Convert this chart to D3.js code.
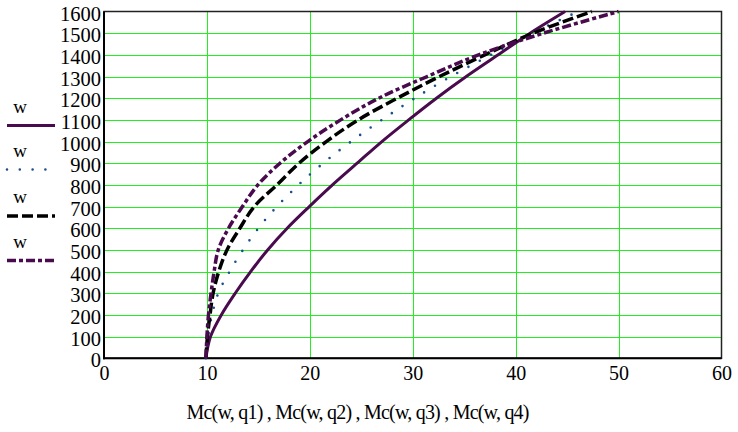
<!DOCTYPE html>
<html>
<head>
<meta charset="utf-8">
<script src="https://cdn.jsdelivr.net/npm/d3@7"></script>
<style>
  html, body { margin: 0; padding: 0; background: #fff; }
  svg { display: block; }
  svg text { font-family: "Liberation Serif", "Times New Roman", serif !important; fill: #000; }
</style>
</head>
<body>
<svg id="chart" width="738" height="432"></svg>
<script>
// ---- data ----
const wValues = [0, 100, 200, 300, 400, 500, 600, 700, 800, 900, 1000, 1100, 1200, 1300, 1400, 1500, 1600];
const mcQ1 = [9.9, 10.35, 11.4, 12.75, 14.25, 15.9, 17.8, 19.95, 22.2, 24.6, 27.0, 29.6, 32.3, 35.2, 38.3, 41.4, 44.8];
const mcQ2 = [9.9, 10.1, 10.5, 11.1, 12.2, 13.5, 15.0, 16.8, 18.9, 21.3, 24.0, 27.0, 30.2, 33.7, 37.6, 41.6, 46.1];
const mcQ3 = [9.9, 10.05, 10.3, 10.6, 11.15, 11.95, 13.2, 14.6, 16.8, 18.95, 21.6, 24.7, 28.5, 32.6, 37.0, 41.7, 47.4];
const mcQ4 = [9.9, 10.0, 10.15, 10.4, 10.7, 11.1, 12.1, 13.45, 14.95, 17.1, 19.8, 23.0, 26.7, 31.4, 36.4, 42.7, 50.0];
const xTicks = [0, 10, 20, 30, 40, 50, 60];
const yTicks = [0, 100, 200, 300, 400, 500, 600, 700, 800, 900, 1000, 1100, 1200, 1300, 1400, 1500, 1600];
const legendLabels = ["w", "w", "w", "w"];
const xTitle = "Mc(w, q1) , Mc(w, q2) , Mc(w, q3) , Mc(w, q4)";

const seriesStyles = [
  { data: mcQ1, color: "#4a0a4e", width: 3, dash: null, cap: "butt" },
  { data: mcQ2, color: "#1a4f8c", width: 2.6, dash: "0,12.8", cap: "round" },
  { data: mcQ3, color: "#000000", width: 3.5, dash: "11,4", cap: "butt" },
  { data: mcQ4, color: "#4a0a4e", width: 3.5, dash: "9,3,4,3", cap: "butt" }
];

const svg = d3.select("#chart");
const pLeft = 104, pRight = 721.5, pTop = 11.5, pBottom = 358.3;
const x = d3.scaleLinear().domain([0, 60]).range([pLeft, pRight]);
const y = d3.scaleLinear().domain([0, 1600]).range([pBottom, pTop]);

// grid
const grid = svg.append("g");
grid.selectAll("line.v").data(xTicks.filter(t => t > 0 && t < 60)).enter().append("line")
  .attr("x1", d => Math.round(x(d)) + 0.5).attr("x2", d => Math.round(x(d)) + 0.5)
  .attr("y1", pTop).attr("y2", pBottom)
  .attr("stroke", "#22ee22").attr("stroke-width", 1);
grid.selectAll("line.h").data(yTicks.filter(t => t > 0 && t < 1600)).enter().append("line")
  .attr("x1", pLeft).attr("x2", pRight)
  .attr("y1", d => Math.round(y(d)) + 0.5).attr("y2", d => Math.round(y(d)) + 0.5)
  .attr("stroke", "#22ee22").attr("stroke-width", 1);

// frame
svg.append("rect").attr("x", pLeft).attr("y", pTop).attr("width", pRight - pLeft).attr("height", pBottom - pTop)
  .attr("fill", "none").attr("stroke", "#222").attr("stroke-width", 1.5);
svg.append("line").attr("x1", pLeft).attr("x2", pLeft).attr("y1", pTop).attr("y2", pBottom + 1)
  .attr("stroke", "#000").attr("stroke-width", 2);
svg.append("line").attr("x1", pLeft - 1).attr("x2", pRight).attr("y1", pBottom).attr("y2", pBottom)
  .attr("stroke", "#000").attr("stroke-width", 2);

// axes (labels only)
const xAxis = d3.axisBottom(x).tickValues(xTicks).tickSize(0).tickPadding(0).tickFormat(d3.format("d"));
const gx = svg.append("g").attr("transform", `translate(0,${pBottom})`).call(xAxis);
gx.attr("font-family", null).attr("font-size", null);
gx.select(".domain").remove();
gx.selectAll("text").style("font-family", "'Liberation Serif', serif").style("font-size", "20px")
  .attr("dy", null).attr("y", 22).attr("fill", "#000");

const yAxis = d3.axisLeft(y).tickValues(yTicks).tickSize(0).tickPadding(0).tickFormat(d3.format("d"));
const gy = svg.append("g").attr("transform", `translate(101,0)`).call(yAxis);
gy.attr("font-family", null).attr("font-size", null);
gy.select(".domain").remove();
gy.selectAll("text").style("font-family", "'Liberation Serif', serif").style("font-size", "20.5px")
  .attr("x", 0).attr("dy", "0.42em").attr("fill", "#000");

// curves
const line = d3.line()
  .x(d => x(d[0])).y(d => y(d[1]))
  .curve(d3.curveCatmullRom.alpha(0.5));
const plot = svg.append("g");
seriesStyles.forEach(s => {
  const pts = wValues.map((w, i) => [s.data[i], w]);
  plot.append("path").attr("d", line(pts))
    .attr("fill", "none").attr("stroke", s.color).attr("stroke-width", s.width)
    .attr("stroke-linecap", s.cap)
    .attr("stroke-dasharray", s.dash);
});

// legend
const legY = [125.5, 169.5, 216, 260.5];
const leg = svg.append("g");
seriesStyles.forEach((s, i) => {
  leg.append("text").attr("x", 20).attr("y", legY[i] - 13).attr("text-anchor", "middle")
    .style("font-size", "19px").text(legendLabels[i]);
  leg.append("line").attr("x1", 7).attr("x2", 55).attr("y1", legY[i]).attr("y2", legY[i])
    .attr("stroke", s.color).attr("stroke-width", s.width)
    .attr("stroke-linecap", s.cap).attr("stroke-dasharray", s.dash);
});

// x title
svg.append("text").attr("x", 358).attr("y", 419).attr("text-anchor", "middle")
  .style("font-size", "20px").attr("textLength", 343).attr("lengthAdjust", "spacing")
  .text(xTitle);
</script>
</body>
</html>
